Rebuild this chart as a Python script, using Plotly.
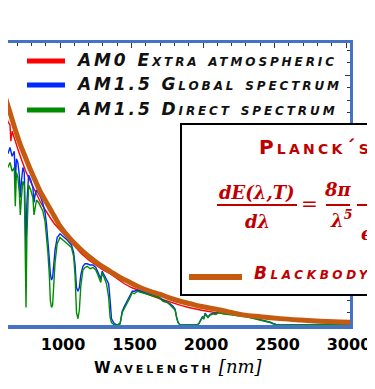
import plotly.graph_objects as go

# ---------------- data ----------------
wl_am0 = [560, 575, 587, 595, 605, 620, 635, 650, 656, 665, 680, 695, 710, 725, 740, 760,
          780, 800, 820, 840, 860, 880, 900, 930, 960, 1000, 1050, 1100, 1150, 1200, 1250,
          1300, 1350, 1400, 1450, 1500, 1550, 1600, 1650, 1700, 1750, 1800, 1850, 1900,
          1950, 2000, 2100, 2200, 2300, 2400, 2500, 2600, 2700, 2800, 2900, 3000, 3040]
am0 = [1.88, 1.80, 1.70, 1.84, 1.74, 1.69, 1.63, 1.60, 1.47, 1.55, 1.49, 1.44, 1.39, 1.34,
       1.29, 1.23, 1.18, 1.13, 1.08, 1.03, 0.99, 0.95, 0.91, 0.86, 0.81, 0.76, 0.69, 0.63,
       0.57, 0.52, 0.48, 0.44, 0.41, 0.37, 0.33, 0.30, 0.275, 0.25, 0.23, 0.21, 0.19, 0.17,
       0.155, 0.14, 0.127, 0.116, 0.097, 0.084, 0.073, 0.064, 0.056, 0.049, 0.043, 0.038,
       0.034, 0.031, 0.030]

wl_glob = [560, 575, 590, 605, 620, 635, 650, 665, 680, 687, 695, 705, 715, 722, 730, 740,
           750, 757, 762, 768, 780, 795, 810, 818, 825, 835, 850, 865, 880, 895, 905, 915,
           925, 932, 940, 948, 955, 965, 980, 1000, 1020, 1050, 1080, 1095, 1105, 1115, 1125,
           1135, 1145, 1160, 1175, 1190, 1210, 1230, 1250, 1265, 1275, 1285, 1295, 1310, 1325,
           1340, 1350, 1360, 1380, 1400, 1420, 1435, 1450, 1470, 1490, 1505, 1520, 1540, 1570,
           1600, 1630, 1660, 1690, 1720, 1750, 1770, 1790, 1805, 1815, 1825, 1840, 1870, 1900,
           1930, 1955, 1970, 1985, 1995, 2005, 2015, 2025, 2035, 2050, 2070, 2090, 2110, 2140,
           2180, 2220, 2260, 2300, 2340, 2380, 2420, 2450, 2470, 2490, 2510, 2540, 2600, 2700,
           2800, 2900, 3000, 3040]
am15g = [1.52, 1.45, 1.50, 1.41, 1.46, 1.37, 1.42, 1.35, 1.39, 1.14, 1.33, 1.30, 1.20, 1.02,
         1.15, 1.26, 1.22, 0.92, 0.58, 0.97, 1.20, 1.16, 1.10, 0.98, 1.04, 1.08, 1.05, 1.02,
         0.97, 0.90, 0.81, 0.69, 0.53, 0.41, 0.36, 0.38, 0.48, 0.60, 0.70, 0.73, 0.71, 0.68,
         0.64, 0.58, 0.48, 0.30, 0.27, 0.30, 0.40, 0.47, 0.49, 0.49, 0.48, 0.48, 0.46, 0.42,
         0.39, 0.37, 0.43, 0.40, 0.36, 0.33, 0.20, 0.05, 0.01, 0.0, 0.01, 0.11, 0.15, 0.19,
         0.23, 0.27, 0.27, 0.28, 0.27, 0.26, 0.25, 0.24, 0.225, 0.20, 0.185, 0.17, 0.15,
         0.125, 0.065, 0.02, 0.0, 0.0, 0.0, 0.0, 0.0, 0.01, 0.045, 0.065, 0.055, 0.095, 0.075,
         0.065, 0.085, 0.095, 0.09, 0.105, 0.095, 0.09, 0.085, 0.075, 0.07, 0.06, 0.05, 0.04,
         0.03, 0.022, 0.012, 0.004, 0.0, 0.0, 0.0, 0.0, 0.003, 0.006, 0.006]

wl_dir = wl_glob
am15d = [1.36, 1.31, 1.35, 1.29, 1.33, 1.26, 1.30, 1.23, 1.26, 0.95, 1.22, 1.18, 1.06, 0.88,
         1.02, 1.15, 1.12, 0.60, 0.14, 0.70, 1.12, 1.08, 1.02, 0.88, 0.94, 1.00, 0.98, 0.95,
         0.91, 0.83, 0.72, 0.58, 0.40, 0.20, 0.14, 0.16, 0.30, 0.50, 0.65, 0.70, 0.68, 0.65,
         0.62, 0.55, 0.40, 0.10, 0.05, 0.12, 0.31, 0.44, 0.46, 0.47, 0.45, 0.46, 0.44, 0.40,
         0.36, 0.34, 0.42, 0.38, 0.33, 0.22, 0.06, 0.02, 0.0, 0.0, 0.01, 0.10, 0.13, 0.18,
         0.22, 0.26, 0.25, 0.27, 0.26, 0.25, 0.24, 0.23, 0.22, 0.19, 0.18, 0.16, 0.14, 0.12,
         0.06, 0.02, 0.0, 0.0, 0.0, 0.0, 0.0, 0.01, 0.04, 0.06, 0.05, 0.09, 0.07, 0.06, 0.08,
         0.09, 0.085, 0.10, 0.09, 0.085, 0.08, 0.07, 0.065, 0.055, 0.045, 0.035, 0.025, 0.02,
         0.01, 0.003, 0.0, 0.0, 0.0, 0.0, 0.003, 0.005, 0.005]

wl_bb = [560, 580, 615, 650, 685, 720, 755, 790, 825, 860, 895, 930, 965, 1000, 1070, 1140,
         1210, 1280, 1350, 1420, 1490, 1560, 1630, 1700, 1770, 1840, 1910, 1980, 2120, 2260,
         2400, 2540, 2680, 2820, 2960, 3060]
blackbody = [2.03, 1.97, 1.83, 1.70, 1.57, 1.45, 1.35, 1.25, 1.16, 1.07, 1.00, 0.93, 0.86,
             0.79, 0.69, 0.61, 0.54, 0.48, 0.43, 0.38, 0.34, 0.30, 0.27, 0.245, 0.215, 0.19,
             0.17, 0.15, 0.12, 0.085, 0.066, 0.051, 0.04, 0.031, 0.024, 0.02]

x_tick_vals = [1000, 1500, 2000, 2500, 3000]
series_names = ["AM0 Extra atmospheric", "AM1.5 Global spectrum", "AM1.5 Direct spectrum"]
bb_name = "Blackbody"
box_title = "Planck´s"

# ---------------- styling ----------------
C_RED, C_BLUE, C_GREEN, C_ORANGE = "#FF0000", "#0028FF", "#008C00", "#C55A11"
C_AXIS = "#4472C4"
C_DRED = "#C00000"
OFF = 8                      # page offset of the figure (body margin)
W, H = 375 - OFF, 389 - OFF
ML, MT = 0, 35
PW, PH = 342, 282
MR, MB = W - ML - PW, H - MT - PH


def xp(page_x):
    return (page_x - OFF - ML) / PW


def yp(page_y):
    return (MT + PH + OFF - page_y) / PH


def spaced(txt, ls):
    return "<span style='letter-spacing:%spx'>%s</span>" % (ls, txt)


fig = go.Figure()
for wl, vals, col in [(wl_am0, am0, C_RED), (wl_glob, am15g, C_BLUE), (wl_dir, am15d, C_GREEN)]:
    fig.add_trace(go.Scatter(x=wl, y=vals, mode="lines", line=dict(color=col, width=1.4),
                             showlegend=False, hoverinfo="skip"))
fig.add_trace(go.Scatter(x=wl_bb, y=blackbody, mode="lines", name=bb_name,
                         line=dict(color=C_ORANGE, width=5, shape="spline"),
                         showlegend=False, hoverinfo="skip"))
# empty trace to carry the top axis ticks
fig.add_trace(go.Scatter(x=[None], y=[None], xaxis="x2", showlegend=False, hoverinfo="skip"))

xrange = [636, 3028]
tick_common = dict(tickwidth=1, tickcolor="#333")
fig.update_layout(
    width=W, height=H, margin=dict(l=ML, r=MR, t=MT, b=MB),
    paper_bgcolor="white", plot_bgcolor="white", showlegend=False,
    xaxis=dict(range=xrange, showgrid=False, zeroline=False, showline=True,
               linecolor=C_AXIS, linewidth=4, ticks="", tickvals=x_tick_vals,
               ticklabelshift=3, ticklabelstandoff=2,
               tickfont=dict(family="DejaVu Sans", size=16, weight="bold", color="black")),
    xaxis2=dict(range=xrange, overlaying="x", side="top", anchor="y", showgrid=False,
                zeroline=False, showline=True, linecolor=C_AXIS, linewidth=3,
                ticks="inside", ticklen=5, dtick=500, tick0=0, showticklabels=False,
                minor=dict(ticks="inside", ticklen=3, dtick=100, **tick_common), **tick_common),
    yaxis=dict(range=[0, 2.256], side="right", showgrid=False, zeroline=False, showline=True,
               linecolor=C_AXIS, linewidth=3, ticks="inside", ticklen=5,
               dtick=0.5, showticklabels=False,
               minor=dict(ticks="inside", ticklen=3, dtick=0.1, **tick_common), **tick_common),
)

# ---------------- legend (top left) ----------------
leg_font = dict(family="DejaVu Sans", size=17, weight="bold", style="italic",
                variant="small-caps", color="#111111")
for name, col, py in zip(series_names, [C_RED, C_BLUE, C_GREEN], [61, 85, 110]):
    fig.add_shape(type="line", xref="paper", yref="paper", x0=xp(27), x1=xp(65),
                  y0=yp(py), y1=yp(py), line=dict(color=col, width=5), layer="above")
    fig.add_annotation(text=spaced(name, 2.9), xref="paper", yref="paper", x=xp(74),
                       y=yp(py - 1), xanchor="left", yanchor="middle", showarrow=False,
                       font=leg_font)

# ---------------- Planck box ----------------
fig.add_shape(type="rect", xref="paper", yref="paper", x0=xp(181), x1=xp(430),
              y0=yp(295), y1=yp(124), line=dict(color="black", width=2),
              fillcolor="white", layer="above")
fig.add_annotation(text=spaced(box_title, 3.2), xref="paper", yref="paper", x=xp(257),
                   y=yp(147), xanchor="left", yanchor="middle", showarrow=False,
                   font=dict(family="DejaVu Sans", size=20, weight="bold",
                             variant="small-caps", color=C_DRED))
f_font = dict(family="DejaVu Serif", size=18, weight="bold", style="italic", color=C_DRED)
for txt, px, py, anch in [("dE(λ,T)", 257, 192, "center"), ("dλ", 257, 221, "center"),
                          ("8π", 338, 190, "center"), ("λ<sup>5</sup>", 341, 219, "center"),
                          ("e", 359, 233, "left")]:
    fig.add_annotation(text=txt, xref="paper", yref="paper", x=xp(px), y=yp(py),
                       xanchor=anch, yanchor="middle", showarrow=False, font=f_font)
fig.add_annotation(text="=", xref="paper", yref="paper", x=xp(309), y=yp(204),
                   xanchor="center", yanchor="middle", showarrow=False,
                   font=dict(family="DejaVu Serif", size=20, color=C_DRED))
for x0, x1 in [(217, 297), (326, 350), (357, 430)]:
    fig.add_shape(type="line", xref="paper", yref="paper", x0=xp(x0), x1=xp(x1),
                  y0=yp(205), y1=yp(205), line=dict(color=C_DRED, width=2), layer="above")
fig.add_shape(type="line", xref="paper", yref="paper", x0=xp(189), x1=xp(242),
              y0=yp(277), y1=yp(277), line=dict(color=C_ORANGE, width=6), layer="above")
fig.add_annotation(text=spaced(bb_name, 3.6), xref="paper", yref="paper", x=xp(252),
                   y=yp(273), xanchor="left", yanchor="middle", showarrow=False,
                   font=dict(family="DejaVu Sans", size=17, weight="bold", style="italic",
                             variant="small-caps", color=C_DRED))

# ---------------- axis title ----------------
fig.add_annotation(
    text=spaced("Wavelength", 3.0) + " <span style='font-family:DejaVu Serif;"
         "font-variant:normal;font-weight:normal;font-size:18px'><i>[nm]</i></span>",
    xref="paper", yref="paper", x=xp(178), y=yp(366), xanchor="center", yanchor="middle",
    showarrow=False,
    font=dict(family="DejaVu Sans", size=15, weight="bold", variant="small-caps", color="black"))

fig.write_html("out.html")
